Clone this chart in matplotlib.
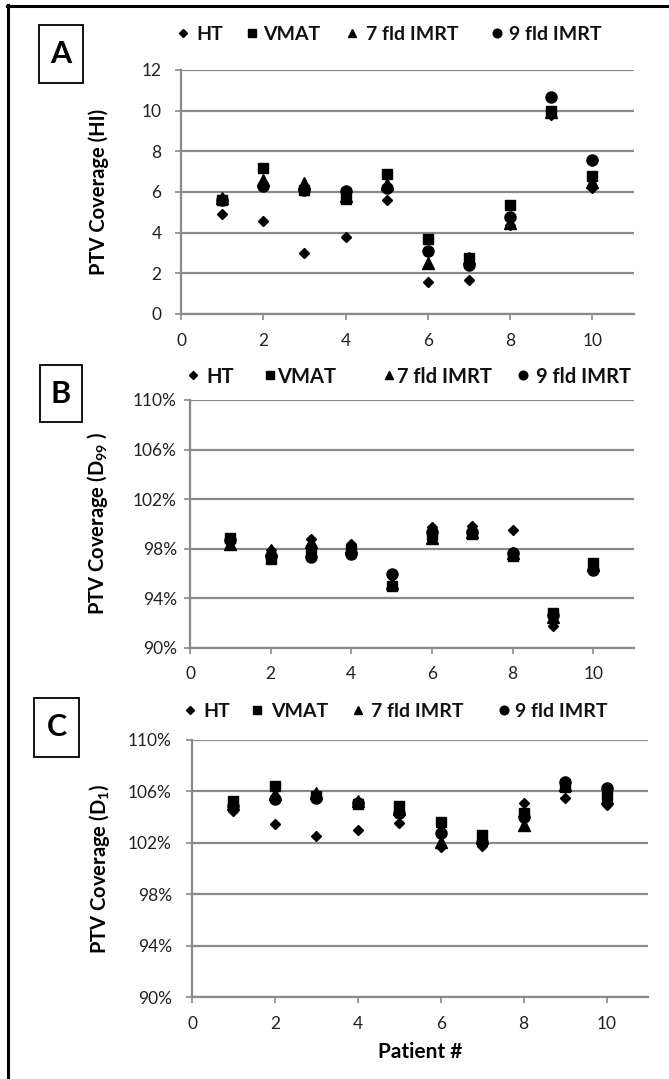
import matplotlib
matplotlib.use("Agg")
import matplotlib.pyplot as plt
from matplotlib.lines import Line2D
from matplotlib.patches import Rectangle
from matplotlib.ticker import FuncFormatter

plt.rcParams["font.family"] = ["Lato", "DejaVu Sans"]
plt.rcParams["mathtext.fontset"] = "custom"
plt.rcParams["mathtext.rm"] = "Lato"
plt.rcParams["mathtext.bf"] = "Lato:bold"

# ---- data -----------------------------------------------------------------
patients = [1, 2, 3, 4, 5, 6, 7, 8, 9, 10]
series_names = ["HT", "VMAT", "7 fld IMRT", "9 fld IMRT"]

# A: homogeneity index
hi_ht = [4.93, 4.55, 3.00, 3.78, 5.61, 1.55, 1.65, 4.39, 9.79, 6.22]
hi_vmat = [5.61, 7.20, 6.10, 5.65, 6.89, 3.70, 2.75, 5.35, 9.98, 6.79]
hi_7fld = [5.70, 6.60, 6.43, 5.80, 6.40, 2.50, 2.75, 4.47, 9.95, 6.50]
hi_9fld = [5.60, 6.30, 6.10, 6.07, 6.22, 3.11, 2.42, 4.75, 10.69, 7.58]

# B: D99 (% of prescription)
d99_ht = [98.60, 97.90, 98.75, 98.35, 95.05, 99.77, 99.82, 99.47, 91.75, 96.54]
d99_vmat = [98.88, 97.20, 97.90, 97.90, 94.98, 99.10, 99.15, 97.40, 92.77, 96.81]
d99_7fld = [98.40, 97.90, 98.56, 98.15, 95.20, 98.83, 99.37, 97.67, 92.50, 96.67]
d99_9fld = [98.70, 97.40, 97.35, 97.56, 95.92, 99.37, 99.37, 97.62, 92.64, 96.27]

# C: D1 (% of prescription)
d1_ht = [104.50, 103.47, 102.56, 103.00, 103.52, 101.70, 101.76, 105.08, 105.47, 104.95]
d1_vmat = [105.28, 106.42, 105.65, 105.00, 104.87, 103.65, 102.62, 104.30, 106.37, 105.73]
d1_7fld = [105.00, 105.80, 105.85, 105.28, 104.60, 102.10, 102.36, 103.40, 106.50, 105.47]
d1_9fld = [104.90, 105.44, 105.47, 105.10, 104.35, 102.75, 102.10, 104.04, 106.76, 106.24]

markers = {"HT": ("D", 5.6), "VMAT": ("s", 7.5), "7 fld IMRT": ("^", 8), "9 fld IMRT": ("o", 8)}
GRID = "#8a8a8a"

W, H = 669, 1079
fig = plt.figure(figsize=(W / 100, H / 100), dpi=100)


def fx(x):
    return x / W


def fy(y):
    return 1 - y / H


def px_axes(x0, y0, x1, y1):
    return fig.add_axes([fx(x0), fy(y1), (x1 - x0) / W, (y1 - y0) / H])


def legend_row(y, marker_xs, text_xs, fs):
    # Excel-style legend strip above each panel, placed item by item
    for name, mx, tx in zip(series_names, marker_xs, text_xs):
        m, ms = markers[name]
        fig.add_artist(Line2D([fx(mx)], [fy(y)], transform=fig.transFigure, ls="none",
                              marker=m, ms=ms * 0.78, color="black"))
        fig.text(fx(tx), fy(y), name, ha="left", va="center_baseline", fontsize=fs,
                 fontweight="bold", color="#111111")


def panel(ax, letter, box, data, ylim, yticks, ylabel, label_x, ypad, percent=False):
    for name, vals in zip(series_names, data):
        m, ms = markers[name]
        ax.plot(patients, vals, ls="none", marker=m, ms=ms, color="black", label=name,
                zorder=3)
    ax.set_xlim(0, 11)
    ax.set_ylim(*ylim)
    ax.set_xticks(range(0, 11, 2))
    ax.set_yticks(yticks)
    if percent:
        ax.yaxis.set_major_formatter(FuncFormatter(lambda v, _: f"{v:.0f}%"))
    ax.yaxis.grid(True, color=GRID, lw=1.6)
    ax.set_axisbelow(True)
    for s in ("top", "right"):
        ax.spines[s].set_visible(False)
    for s in ("left", "bottom"):
        ax.spines[s].set_color(GRID)
        ax.spines[s].set_linewidth(1.6)
    ax.tick_params(axis="both", direction="out", length=4.5, width=1.2, color=GRID,
                   labelsize=12.5, labelcolor="#222222")
    ax.tick_params(axis="x", pad=9)
    ax.tick_params(axis="y", pad=ypad)
    ax.set_ylabel(ylabel, fontsize=14.5, fontweight="bold")
    ax.yaxis.set_label_coords(label_x, 0.5)

    x0, y0, x1, y1 = box
    fig.add_artist(Rectangle((fx(x0), fy(y1)), (x1 - x0) / W, (y1 - y0) / H,
                             transform=fig.transFigure, fill=False, ec="black", lw=1.3))
    fig.text(fx((x0 + x1) / 2), fy((y0 + y1) / 2), letter, ha="center", va="center",
             fontsize=22, fontweight="bold")


ax_a = px_axes(181, 70, 633.5, 314)
panel(ax_a, "A", (39, 25, 83, 83), [hi_ht, hi_vmat, hi_7fld, hi_9fld], (0, 12),
      range(0, 13, 2), "PTV Coverage (HI)", -0.16, 9.5)
legend_row(33, [183, 252, 352, 497], [196, 263, 366, 509], 14)

ax_b = px_axes(190, 400, 633.5, 647.7)
panel(ax_b, "B", (40, 365, 82, 422), [d99_ht, d99_vmat, d99_7fld, d99_9fld], (90, 110),
      range(90, 111, 4), r"PTV Coverage (D$_\mathbf{99}$ )", -0.18, 5, percent=True)
legend_row(375, [193, 270, 389, 523], [206, 277, 397, 536], 14.5)

ax_c = px_axes(192, 740, 648, 997.3)
panel(ax_c, "C", (34, 698, 79, 757), [d1_ht, d1_vmat, d1_7fld, d1_9fld], (90, 110),
      range(90, 111, 4), r"PTV Coverage (D$_\mathbf{1}$)", -0.175, 10, percent=True)
legend_row(710, [190, 257, 358, 504], [203, 271, 371, 515], 14)
ax_c.set_xlabel("Patient #", fontsize=15, fontweight="bold", labelpad=7)

# frame edges at the left and top of the figure
fig.add_artist(Line2D([fx(8), fx(8)], [0, fy(5)], transform=fig.transFigure,
                      color="black", lw=2.2))
fig.add_artist(Line2D([fx(7), 1], [fy(6), fy(6)], transform=fig.transFigure,
                      color="black", lw=2.2))

fig.savefig("out.png", dpi=100)
